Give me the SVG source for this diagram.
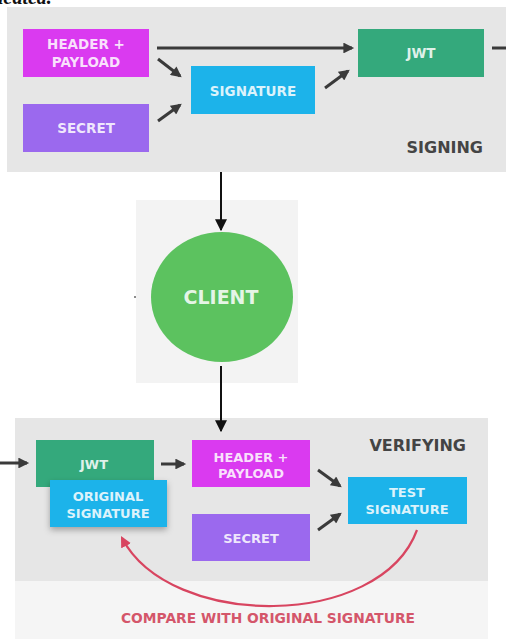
<svg xmlns="http://www.w3.org/2000/svg" width="506" height="639" viewBox="0 0 506 639">
<style>
.lbl{font-family:"DejaVu Sans","Liberation Sans",sans-serif;font-weight:bold;fill:#ffffff;fill-opacity:0.85;text-anchor:middle}
.b13{font-size:13.5px}
.v13{font-size:13px}
.title{font-family:"DejaVu Sans","Liberation Sans",sans-serif;font-weight:bold;fill:#444444;text-anchor:end;font-size:16px}
.dark{stroke:#3a3a3a;stroke-width:3;fill:none}
.blk{stroke:#111111;stroke-width:2;fill:none}
.hp{fill:#da3af0}
.sec{fill:#9b69ee}
.sig{fill:#1cb3ea}
.jwt{fill:#34a97c}
</style>
<defs>
<marker id="ad" viewBox="0 0 10 10" refX="8" refY="5" markerWidth="4" markerHeight="3.6" orient="auto" markerUnits="strokeWidth">
<path d="M0,0 L10,5 L0,10 z" fill="#3a3a3a"/>
</marker>
<marker id="ab" viewBox="0 0 10 10" refX="9" refY="5" markerWidth="6" markerHeight="6" orient="auto" markerUnits="strokeWidth">
<path d="M0,0 L10,5 L0,10 z" fill="#111111"/>
</marker>
<marker id="ar" viewBox="0 0 10 10" refX="8" refY="5" markerWidth="5" markerHeight="5" orient="auto" markerUnits="strokeWidth">
<path d="M0,0 L10,5 L0,10 z" fill="#d84560"/>
</marker>
<filter id="sh" x="-20%" y="-20%" width="140%" height="150%">
<feDropShadow dx="0" dy="3" stdDeviation="3" flood-color="#000000" flood-opacity="0.3"/>
</filter>
</defs>
<rect width="506" height="639" fill="#ffffff"/>
<text x="-2" y="4" font-family="Liberation Serif,serif" font-size="20" font-style="italic" font-weight="bold" fill="#111111">icated.</text>

<!-- panels -->
<rect id="signing-panel" x="7" y="7" width="499" height="165" fill="#e6e6e6"/>
<rect id="client-panel" x="136" y="200" width="162" height="183" fill="#f3f3f3"/>
<rect id="verify-bottom" x="15" y="581" width="473" height="58" fill="#f5f5f5"/>
<rect id="verifying-panel" x="15" y="418" width="473" height="163" fill="#e6e6e6"/>
<text class="title" x="483" y="153">SIGNING</text>
<text class="title" x="466" y="451">VERIFYING</text>

<g id="connectors">
<line class="dark" x1="157" y1="48" x2="352" y2="48" marker-end="url(#ad)"/>
<line class="dark" x1="492" y1="48" x2="506" y2="48"/>
<line class="dark" x1="158" y1="59" x2="180" y2="76" marker-end="url(#ad)"/>
<line class="dark" x1="158" y1="121" x2="180" y2="105" marker-end="url(#ad)"/>
<line class="dark" x1="325" y1="88" x2="348" y2="71" marker-end="url(#ad)"/>
<line class="blk" x1="221" y1="172" x2="221" y2="230" marker-end="url(#ab)"/>
<line class="blk" x1="221" y1="366" x2="221" y2="431" marker-end="url(#ab)"/>
<line class="dark" x1="0" y1="463" x2="27" y2="463" marker-end="url(#ad)"/>
<line class="dark" x1="161" y1="464" x2="184" y2="464" marker-end="url(#ad)"/>
<line class="dark" x1="318" y1="470" x2="340" y2="486" marker-end="url(#ad)"/>
<line class="dark" x1="318" y1="530" x2="340" y2="514" marker-end="url(#ad)"/>
<path d="M417,530 C380,630 170,630 122,538" stroke="#d84560" stroke-width="2.2" fill="none" marker-end="url(#ar)"/>
</g>

<g id="header-payload-1"><rect class="hp" x="23" y="29" width="126" height="48"/><text class="lbl b13" x="86" y="49">HEADER +</text><text class="lbl b13" x="86" y="67">PAYLOAD</text></g>
<g id="secret-1"><rect class="sec" x="23" y="104" width="126" height="48"/><text class="lbl b13" x="86" y="133">SECRET</text></g>
<g id="signature-1"><rect class="sig" x="191" y="66" width="124" height="48"/><text class="lbl b13" x="253" y="96">SIGNATURE</text></g>
<g id="jwt-1"><rect class="jwt" x="358" y="29" width="126" height="48"/><text class="lbl b13" x="421" y="58">JWT</text></g>

<g id="client"><ellipse cx="222" cy="297" rx="71" ry="65" fill="#5cc25f"/><text class="lbl" x="221" y="304" font-size="19">CLIENT</text></g>
<circle cx="135" cy="297" r="1" fill="#666666"/>

<g id="jwt-2"><rect class="jwt" x="36" y="440" width="118" height="47"/><text class="lbl v13" x="94" y="469">JWT</text></g>
<g id="original-signature"><rect class="sig" x="50" y="480" width="117" height="47" filter="url(#sh)"/><text class="lbl v13" x="108" y="501">ORIGINAL</text><text class="lbl v13" x="108" y="518">SIGNATURE</text></g>
<g id="header-payload-2"><rect class="hp" x="192" y="440" width="118" height="47"/><text class="lbl v13" x="251" y="462">HEADER +</text><text class="lbl v13" x="251" y="478">PAYLOAD</text></g>
<g id="secret-2"><rect class="sec" x="192" y="514" width="118" height="47"/><text class="lbl v13" x="251" y="543">SECRET</text></g>
<g id="test-signature"><rect class="sig" x="348" y="477" width="119" height="47"/><text class="lbl v13" x="407" y="497">TEST</text><text class="lbl v13" x="407" y="514">SIGNATURE</text></g>

<text x="268" y="623" font-family="DejaVu Sans,Liberation Sans,sans-serif" font-weight="bold" font-size="13.8" fill="#d4566a" text-anchor="middle">COMPARE WITH ORIGINAL SIGNATURE</text>
</svg>
